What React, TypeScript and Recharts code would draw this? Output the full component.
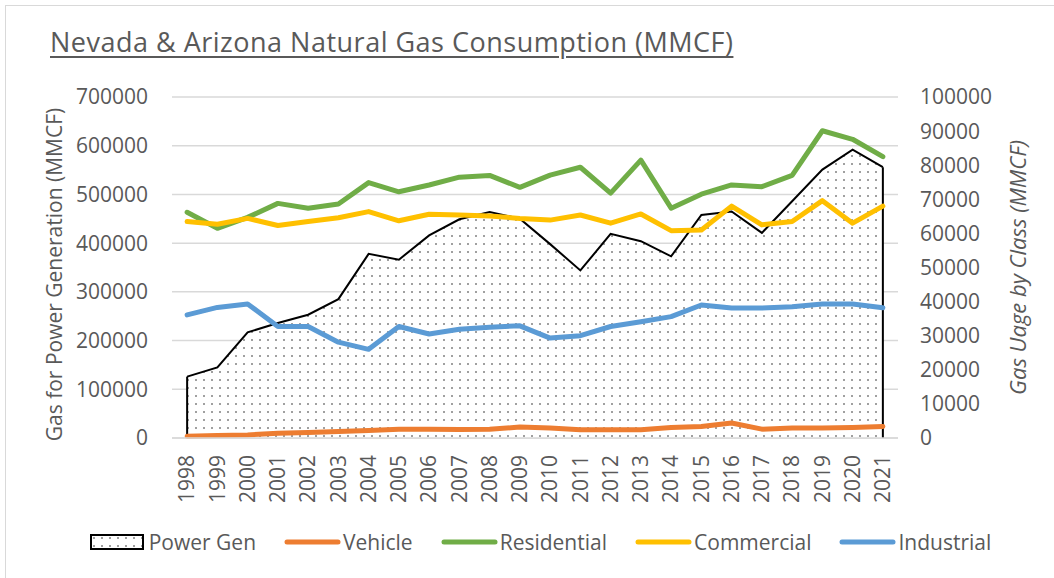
import React from 'react';
import {
  ComposedChart,
  Area,
  Line,
  XAxis,
  YAxis,
  CartesianGrid,
  Legend,
  ReferenceLine,
} from 'recharts';

const years = [
  '1998', '1999', '2000', '2001', '2002', '2003', '2004', '2005', '2006', '2007', '2008', '2009',
  '2010', '2011', '2012', '2013', '2014', '2015', '2016', '2017', '2018', '2019', '2020', '2021',
];

const powerGen = [
  126000, 145000, 217000, 236000, 253000, 285000, 378000, 366000, 416000, 449000, 464000, 450000,
  398000, 344000, 419000, 404000, 373000, 458000, 465000, 421000, 486000, 551000, 592000, 556000,
];

const vehicle = [
  500, 700, 900, 1400, 1600, 1900, 2200, 2600, 2600, 2500, 2600, 3200,
  2900, 2400, 2400, 2400, 3100, 3400, 4400, 2600, 2900, 2900, 3100, 3400,
];

const residential = [
  66200, 61500, 64700, 68800, 67400, 68600, 74900, 72200, 74200, 76500, 77000, 73500,
  77100, 79400, 71800, 81500, 67400, 71500, 74200, 73700, 77000, 90100, 87600, 82500,
];

const commercial = [
  63500, 62700, 64400, 62300, 63500, 64600, 66400, 63700, 65600, 65400, 65100, 64400,
  63900, 65400, 63000, 65700, 60800, 61000, 68000, 62500, 63500, 69600, 63000, 68000,
];

const industrial = [
  36100, 38300, 39300, 32700, 32700, 28100, 26000, 32700, 30500, 31900, 32500, 32900,
  29300, 30000, 32700, 34100, 35600, 39000, 38100, 38100, 38500, 39300, 39300, 38200,
];

const leftTicks = [0, 100000, 200000, 300000, 400000, 500000, 600000, 700000];
const rightTicks = [0, 10000, 20000, 30000, 40000, 50000, 60000, 70000, 80000, 90000, 100000];

const chartTitle = 'Nevada & Arizona Natural Gas Consumption (MMCF)';
const leftTitle = 'Gas for Power Generation (MMCF)';
const rightTitle = 'Gas Uage by Class (MMCF)';

const lineSeries = [
  { key: 'vehicle', name: 'Vehicle', color: '#ED7D31' },
  { key: 'residential', name: 'Residential', color: '#70AD47' },
  { key: 'commercial', name: 'Commercial', color: '#FFC000' },
  { key: 'industrial', name: 'Industrial', color: '#5B9BD5' },
];

const data = years.map((year, i) => ({
  year,
  powerGen: powerGen[i],
  vehicle: vehicle[i],
  residential: residential[i],
  commercial: commercial[i],
  industrial: industrial[i],
}));

const FONT = '"Open Sans", "Noto Sans", sans-serif';
const TEXT = '#595959';

const XTick = (props: any) => {
  const { x, y, payload } = props;
  return (
    <text
      x={x}
      y={y}
      transform={`rotate(-90, ${x}, ${y})`}
      textAnchor="end"
      dy="0.35em"
      fill={TEXT}
      fontSize={21}
      fontFamily={FONT}
    >
      {payload.value}
    </text>
  );
};

const renderLegend = () => (
  <div
    style={{
      height: 40,
      display: 'flex',
      alignItems: 'center',
      justifyContent: 'center',
      paddingLeft: 27,
      boxSizing: 'border-box',
      fontFamily: FONT,
      fontSize: 21,
      color: TEXT,
    }}
  >
    <div style={{ display: 'flex', alignItems: 'center', marginRight: 28 }}>
      <svg width={54} height={16} style={{ marginRight: 5 }}>
        <rect x={1} y={1} width={52} height={14} fill="url(#dotsPattern)" stroke="#000" strokeWidth={2} />
      </svg>
      <span>Power Gen</span>
    </div>
    {lineSeries.map((s, i) => (
      <div
        key={s.key}
        style={{ display: 'flex', alignItems: 'center', marginRight: i === lineSeries.length - 1 ? 0 : 28 }}
      >
        <svg width={57} height={10} style={{ marginRight: 2 }}>
          <line x1={3} y1={5} x2={54} y2={5} stroke={s.color} strokeWidth={5} strokeLinecap="round" />
        </svg>
        <span>{s.name}</span>
      </div>
    ))}
  </div>
);

export default function App() {
  const last = years.length - 1;
  return (
    <div
      style={{
        position: 'fixed',
        left: 0,
        top: 0,
        width: 1054,
        height: 578,
        background: '#fff',
        overflow: 'hidden',
      }}
    >
      <div
        style={{
          position: 'absolute',
          left: 5,
          top: 5,
          width: 1200,
          height: 700,
          border: '1px solid #d9d9d9',
        }}
      />
      <div
        style={{
          position: 'absolute',
          left: 50,
          top: 24,
          fontFamily: FONT,
          fontSize: 27,
          letterSpacing: 0.5,
          color: TEXT,
          textDecoration: 'underline',
          textUnderlineOffset: 4,
          whiteSpace: 'nowrap',
          lineHeight: '36px',
        }}
      >
        {chartTitle}
      </div>
      <div style={{ position: 'absolute', left: 0, top: 0 }}>
        <ComposedChart
          width={1054}
          height={578}
          data={data}
          margin={{ top: 97, right: 0, bottom: 30, left: 0 }}
          style={{ fontFamily: FONT }}
        >
          <defs>
            <pattern id="dotsPattern" x={0} y={0} width={8} height={8} patternUnits="userSpaceOnUse">
              <rect x={0} y={0} width={8} height={8} fill="#fff" />
              <rect x={3} y={3} width={2} height={2} fill="#a0a0a0" />
            </pattern>
          </defs>
          <CartesianGrid yAxisId="left" vertical={false} stroke="#d9d9d9" strokeWidth={1.5} />
          <XAxis
            dataKey="year"
            padding={{ left: 15.13, right: 15.13 }}
            height={70}
            tickSize={0}
            tickMargin={17}
            tickLine={false}
            axisLine={{ stroke: '#d9d9d9', strokeWidth: 1.5 }}
            tick={<XTick />}
            interval={0}
          />
          <YAxis
            yAxisId="left"
            orientation="left"
            width={172}
            domain={[0, 700000]}
            ticks={leftTicks}
            interval={0}
            tickSize={0}
            tickMargin={24}
            tickLine={false}
            axisLine={false}
            tick={{ fill: TEXT, fontSize: 21, fontFamily: FONT }}
            label={{
              content: (p: any) => {
                const vb = p.viewBox;
                const cx = vb.x + 55;
                const cy = vb.y + vb.height / 2 + 7;
                return (
                  <text
                    x={cx}
                    y={cy}
                    transform={`rotate(-90, ${cx}, ${cy})`}
                    textAnchor="middle"
                    dy="0.35em"
                    fill={TEXT}
                    fontSize={21}
                    fontFamily={FONT}
                  >
                    {leftTitle}
                  </text>
                );
              },
            }}
          />
          <YAxis
            yAxisId="right"
            orientation="right"
            width={156}
            domain={[0, 100000]}
            ticks={rightTicks}
            interval={0}
            tickSize={0}
            tickMargin={22}
            tickLine={false}
            axisLine={false}
            tick={{ fill: TEXT, fontSize: 21, fontFamily: FONT, textAnchor: 'start' }}
            label={{
              content: (p: any) => {
                const vb = p.viewBox;
                const cx = vb.x + 120;
                const cy = vb.y + vb.height / 2;
                return (
                  <text
                    x={cx}
                    y={cy}
                    transform={`rotate(-90, ${cx}, ${cy})`}
                    textAnchor="middle"
                    dy="0.35em"
                    fill={TEXT}
                    fontSize={22}
                    fontStyle="italic"
                    fontFamily={FONT}
                  >
                    {rightTitle}
                  </text>
                );
              },
            }}
          />
          <Area
            yAxisId="left"
            type="linear"
            dataKey="powerGen"
            name="Power Gen"
            stroke="#000"
            strokeWidth={2}
            fill="url(#dotsPattern)"
            fillOpacity={1}
            isAnimationActive={false}
            dot={false}
            activeDot={false}
          />
          <ReferenceLine
            yAxisId="left"
            segment={[
              { x: years[0], y: 0 },
              { x: years[0], y: powerGen[0] },
            ]}
            stroke="#000"
            strokeWidth={2}
            ifOverflow="visible"
          />
          <ReferenceLine
            yAxisId="left"
            segment={[
              { x: years[last], y: 0 },
              { x: years[last], y: powerGen[last] },
            ]}
            stroke="#000"
            strokeWidth={2}
            ifOverflow="visible"
          />
          {lineSeries.map((s) => (
            <Line
              key={s.key}
              yAxisId="right"
              type="linear"
              dataKey={s.key}
              name={s.name}
              stroke={s.color}
              strokeWidth={5}
              strokeLinecap="round"
              strokeLinejoin="round"
              dot={false}
              activeDot={false}
              isAnimationActive={false}
            />
          ))}
          <Legend
            verticalAlign="bottom"
            content={renderLegend}
            wrapperStyle={{ top: 522, bottom: 'auto', left: 0, width: 1054, height: 40 }}
          />
        </ComposedChart>
      </div>
    </div>
  );
}
